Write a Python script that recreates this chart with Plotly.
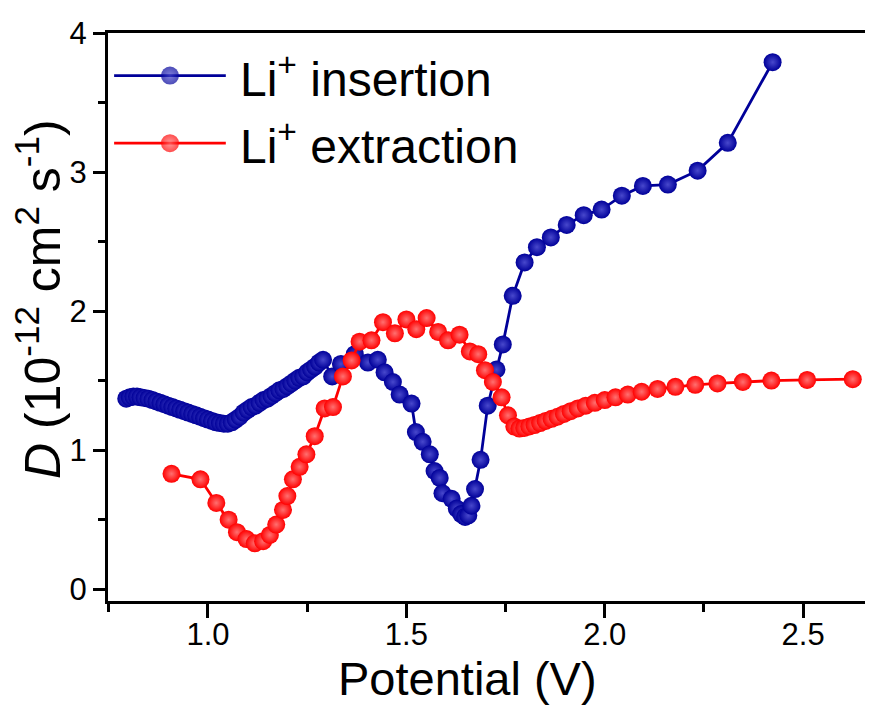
import plotly.graph_objects as go

# ---------------- data ----------------
ins_x = [0.794, 0.803, 0.812, 0.821, 0.830, 0.840, 0.850, 0.860, 0.870, 0.880,
         0.890, 0.900, 0.910, 0.920, 0.930, 0.940, 0.950, 0.960, 0.970, 0.980,
         0.990, 1.000, 1.010, 1.020, 1.030, 1.040, 1.050, 1.060, 1.070, 1.080,
         1.090, 1.100, 1.110, 1.120, 1.130, 1.140, 1.150, 1.160, 1.170, 1.180,
         1.190, 1.200, 1.210, 1.220, 1.230, 1.240, 1.250, 1.260, 1.270, 1.280,
         1.290, 1.313, 1.335, 1.370, 1.403, 1.428, 1.445, 1.466, 1.483, 1.513,
         1.524, 1.541, 1.559, 1.571, 1.584, 1.591, 1.614, 1.627, 1.638, 1.648,
         1.656, 1.664, 1.673, 1.687, 1.705, 1.727, 1.743, 1.768, 1.798, 1.829,
         1.864, 1.904, 1.947, 1.992, 2.043, 2.096, 2.159, 2.234, 2.310, 2.423]
ins_y = [1.37, 1.38, 1.385, 1.385, 1.38, 1.375, 1.37, 1.36, 1.35, 1.34,
         1.33, 1.32, 1.31, 1.30, 1.29, 1.28, 1.27, 1.26, 1.25, 1.24,
         1.23, 1.22, 1.21, 1.20, 1.195, 1.19, 1.19, 1.20, 1.22, 1.24,
         1.27, 1.29, 1.31, 1.32, 1.34, 1.36, 1.37, 1.39, 1.41, 1.43,
         1.44, 1.46, 1.48, 1.50, 1.52, 1.53, 1.56, 1.58, 1.60, 1.63,
         1.65, 1.53, 1.62, 1.69, 1.63, 1.65, 1.56, 1.49, 1.40, 1.335,
         1.13, 1.06, 0.97, 0.85, 0.80, 0.69, 0.65, 0.58, 0.54, 0.52,
         0.53, 0.60, 0.72, 0.93, 1.32, 1.58, 1.76, 2.11, 2.35, 2.46,
         2.53, 2.62, 2.69, 2.73, 2.83, 2.90, 2.91, 3.01, 3.21, 3.79]

ext_x = [0.908, 0.981, 1.021, 1.052, 1.073, 1.097, 1.118, 1.139, 1.156, 1.172,
         1.189, 1.200, 1.214, 1.231, 1.248, 1.269, 1.294, 1.315, 1.340, 1.362,
         1.382, 1.412, 1.441, 1.471, 1.500, 1.525, 1.551, 1.580, 1.605, 1.634,
         1.660, 1.681, 1.698, 1.718, 1.740, 1.756, 1.772, 1.785, 1.797, 1.810,
         1.823, 1.837, 1.851, 1.866, 1.881, 1.897, 1.914, 1.932, 1.952, 1.975,
         2.000, 2.027, 2.058, 2.093, 2.133, 2.178, 2.228, 2.284, 2.348, 2.420,
         2.510, 2.625]
ext_y = [0.83, 0.79, 0.62, 0.50, 0.41, 0.36, 0.33, 0.345, 0.39, 0.465,
         0.57, 0.67, 0.79, 0.88, 0.97, 1.10, 1.30, 1.31, 1.53, 1.645,
         1.78, 1.79, 1.92, 1.84, 1.94, 1.87, 1.95, 1.85, 1.79, 1.83,
         1.71, 1.69, 1.575, 1.49, 1.38, 1.25, 1.17, 1.155, 1.16, 1.17,
         1.18, 1.195, 1.21, 1.225, 1.24, 1.26, 1.28, 1.30, 1.32, 1.34,
         1.36, 1.38, 1.40, 1.42, 1.44, 1.455, 1.47, 1.48, 1.49, 1.50,
         1.505, 1.51]

series_names = ["Li<sup>+</sup> insertion", "Li<sup>+</sup> extraction"]
x_tick_vals = [1.0, 1.5, 2.0, 2.5]
x_tick_text = ["1.0", "1.5", "2.0", "2.5"]
y_tick_vals = [0, 1, 2, 3, 4]
y_tick_text = ["0", "1", "2", "3", "4"]
x_title = "Potential (V)"
y_title = "<i>D</i> (10<sup>-12</sup> cm<sup>2</sup> s<sup>-1</sup>)"

# ---------------- styling ----------------
FONT = "Liberation Sans, Arial, sans-serif"
BLUE = "#000099"
BLUE_HI = "#4848cc"
RED = "#ff0000"
RED_HI = "#ff7070"
MSIZE = 18

fig = go.Figure()

fig.add_trace(go.Scatter(
    x=ins_x, y=ins_y, mode="lines+markers", name=series_names[0],
    line=dict(color=BLUE, width=2.8),
    marker=dict(size=MSIZE, color=BLUE, line=dict(width=0),
                gradient=dict(type="radial", color=BLUE_HI)),
    showlegend=False,
))
fig.add_trace(go.Scatter(
    x=ext_x, y=ext_y, mode="lines+markers", name=series_names[1],
    line=dict(color=RED, width=2.8),
    marker=dict(size=MSIZE, color=RED, line=dict(width=0),
                gradient=dict(type="radial", color=RED_HI)),
    showlegend=False,
))

# ---- custom legend (long sample lines, like the reference) drawn on a helper axis ----
leg_rows = [(0.925, BLUE, BLUE_HI, series_names[0]),
            (0.806, RED, RED_HI, series_names[1])]
for ly, col, hi, label in leg_rows:
    fig.add_trace(go.Scatter(
        x=[0.008, 0.081, 0.154], y=[ly, ly, ly], xaxis="x2", yaxis="y2",
        mode="lines+markers", line=dict(color=col, width=2.8),
        marker=dict(size=[0, MSIZE, 0], color=col, line=dict(width=0),
                    gradient=dict(type="radial", color=hi)),
        showlegend=False, hoverinfo="skip",
    ))
    fig.add_annotation(x=0.170, y=ly, xref="paper", yref="paper",
                       text=label, showarrow=False, xanchor="left", yanchor="middle",
                       font=dict(family=FONT, size=48, color="black"))

# axis titles as annotations
fig.add_annotation(x=0.47, y=-0.136, xref="paper", yref="paper", text=x_title,
                   showarrow=False, xanchor="center", yanchor="middle",
                   font=dict(family=FONT, size=47, color="black"))
fig.add_annotation(x=-0.09, y=0.532, xref="paper", yref="paper", text=y_title,
                   showarrow=False, xanchor="center", yanchor="middle", textangle=-90,
                   font=dict(family=FONT, size=50, color="black"))

fig.update_layout(
    width=873, height=711,
    margin=dict(l=100, r=8, t=21, b=118),
    paper_bgcolor="white", plot_bgcolor="white",
    showlegend=False,
    font=dict(family=FONT, color="black"),
    xaxis=dict(
        range=[0.748, 2.676], showgrid=False, zeroline=False,
        showline=True, linecolor="black", linewidth=3, mirror=True,
        ticks="outside", ticklen=14, tickwidth=3, tickcolor="black",
        tickvals=x_tick_vals, ticktext=x_tick_text,
        tickfont=dict(family=FONT, size=31, color="black"),
        ticklabelstandoff=-10,
        minor=dict(tickvals=[0.75, 1.25, 1.75, 2.25], ticks="outside", ticklen=8,
                   tickwidth=3, tickcolor="black"),
    ),
    yaxis=dict(
        range=[-0.085, 4.0], showgrid=False, zeroline=False,
        showline=True, linecolor="black", linewidth=3, mirror=False,
        ticks="outside", ticklen=12, tickwidth=3, tickcolor="black",
        tickvals=y_tick_vals, ticktext=y_tick_text,
        tickfont=dict(family=FONT, size=31, color="black"),
        minor=dict(tickvals=[0.5, 1.5, 2.5, 3.5], ticks="outside", ticklen=7,
                   tickwidth=3, tickcolor="black"),
    ),
    xaxis2=dict(range=[0, 1], overlaying="x", visible=False, fixedrange=True),
    yaxis2=dict(range=[0, 1], overlaying="y", visible=False, fixedrange=True),
)

fig.write_html("out.html")
